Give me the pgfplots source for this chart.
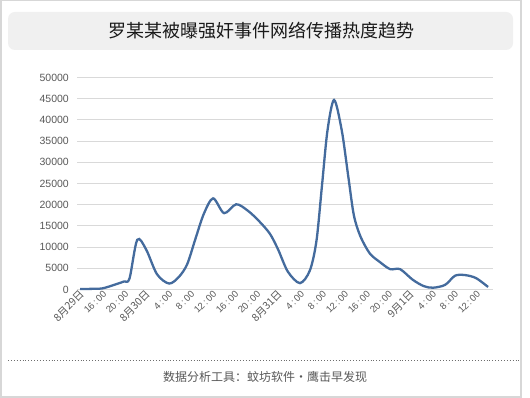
\documentclass[border=0pt]{standalone}
\usepackage{pgfplots}
\pgfplotsset{compat=1.18}
\usepackage{fontspec}
\setmainfont{Liberation Sans}
\newfontfamily\cjk{Noto Sans CJK SC}
\definecolor{curve}{RGB}{68,107,157}
\definecolor{gridc}{RGB}{217,217,217}
\definecolor{framec}{RGB}{215,215,215}
\definecolor{titlebg}{RGB}{240,240,240}
\definecolor{labc}{RGB}{89,89,89}
\definecolor{titc}{RGB}{26,26,26}
\definecolor{dotc}{RGB}{110,110,110}
\newcommand{\tm}[1]{#1\,:\,00}
\newcommand{\dt}[1]{{\cjk\fontsize{10.5}{12}\selectfont #1}}
\begin{document}
\begin{tikzpicture}
\path[fill=white] (0pt,0pt) rectangle (530pt,398pt);
\draw[framec, line width=1.5pt] (0.75pt,0.75pt) rectangle (521pt,397.25pt);
\fill[titlebg, rounded corners=7pt] (8pt,348pt) rectangle (513pt,386pt);
\node[font=\cjk\fontsize{18}{20}\selectfont, text=titc] at (261pt,367pt) {罗某某被曝强奸事件网络传播热度趋势};
\draw[dotted, dotc, line width=0.9pt] (8pt,37.5pt) -- (521pt,37.5pt);
\node[font=\cjk\fontsize{12}{14}\selectfont, text=labc] at (265pt,21pt) {数据分析工具：蚊坊软件·鹰击早发现};
\begin{axis}[
  at={(77pt,108.5pt)}, anchor=south west,
  scale only axis, width=416pt, height=212pt,
  xmin=-0.55, xmax=75.1, ymin=0, ymax=50000,
  axis line style={draw=none},
  major tick length=0pt,
  ytick={0,5000,...,50000},
  scaled y ticks=false,
  /pgf/number format/assume math mode=true,
  /pgf/number format/1000 sep={},
  yticklabel style={font=\fontsize{10.5}{12}\selectfont, text=labc, inner sep=0pt, xshift=-8pt},
  xtick={0,4,...,72},
  xticklabels={\dt{8月29日},\tm{16},\tm{20},\dt{8月30日},\tm{4},\tm{8},\tm{12},\tm{16},\tm{20},\dt{8月31日},\tm{4},\tm{8},\tm{12},\tm{16},\tm{20},\dt{9月1日},\tm{4},\tm{8},\tm{12}},
  xticklabel style={font=\fontsize{9.5}{11}\selectfont, text=labc, rotate=45, anchor=east, inner sep=1pt, yshift=-4pt, xshift=1pt},
  ymajorgrids, grid style={gridc, line width=0.9pt},
  clip=false,
]
\addplot[curve, line width=2.3pt, smooth, tension=0.5] coordinates {
(0,100) (2,150) (4,250) (6,1000) (8,1900) (9,2600) (10.4,11700) (12,9500) (14,3600) (16.2,1400) (18,3000) (19.5,6000) (21,12000) (22.5,17800) (24.2,21500) (26.2,18000) (28.4,20100) (30.5,18600) (32.5,16200) (34.5,13200) (36,9500) (37.8,4200) (40,1500) (41.8,4500) (43,11500) (44,24500) (45,37500) (46.2,44700) (47.6,37500) (48.8,26500) (49.8,17500) (51,12500) (52.7,8500) (54.5,6500) (56.4,4800) (58.2,4800) (60.5,2300) (62.5,800) (64.2,420) (66.4,1100) (68.2,3250) (70,3400) (72,2700) (74.2,600)
};
\end{axis}
\end{tikzpicture}
\end{document}
